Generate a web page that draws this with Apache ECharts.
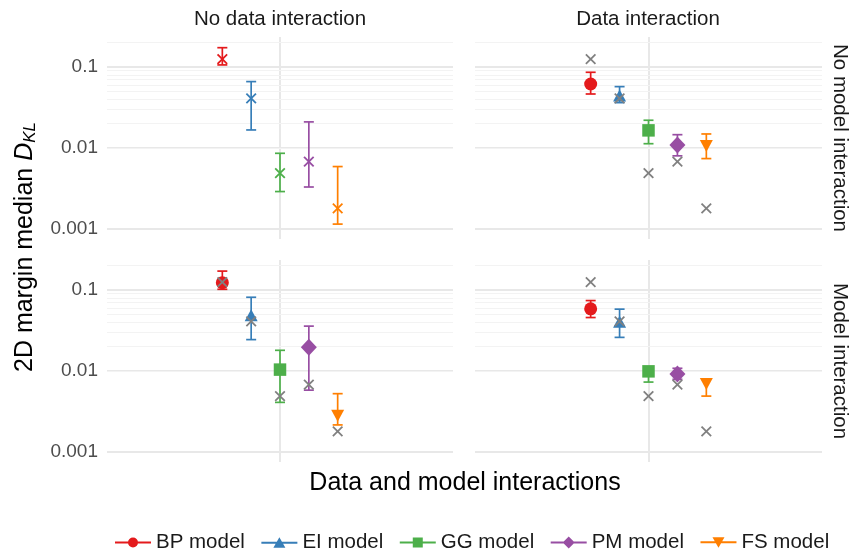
<!DOCTYPE html>
<html><head><meta charset="utf-8">
<script src="https://cdn.jsdelivr.net/npm/echarts@6/dist/echarts.min.js"></script>
<style>html,body{margin:0;padding:0;background:#fff}#c{width:852px;height:556px}</style>
</head><body><div id="c"></div>
<script>
const models = ['BP model','EI model','GG model','PM model','FS model'];
const colors = ['#E41A1C','#377EB8','#4DAF4A','#984EA3','#FF7F00'];
const colLabels = ['No data interaction','Data interaction'];
const rowLabels = ['No model interaction','Model interaction'];
const xTitle = 'Data and model interactions';
const yTitle = '2D margin median ';
const yTickLabels = ['0.001','0.01','0.1'];

// gray crosses: no-interaction reference values
const baseline = [0.125, 0.041, 0.0049, 0.0068, 0.0018];
// No data interaction / No model interaction
const p00Median = [0.125, 0.041, 0.0049, 0.0068, 0.0018];
const p00Low    = [0.106, 0.0167, 0.0029, 0.0033, 0.00115];
const p00High   = [0.173, 0.066, 0.0086, 0.021, 0.0059];
// Data interaction / No model interaction
const p01Median = [0.0616, 0.0443, 0.0165, 0.0109, 0.0106];
const p01Low    = [0.0464, 0.0363, 0.0113, 0.0080, 0.0074];
const p01High   = [0.086, 0.0572, 0.022, 0.0146, 0.0149];
// No data interaction / Model interaction
const p10Median = [0.123, 0.0487, 0.0104, 0.0196, 0.0028];
const p10Low    = [0.102, 0.0244, 0.0041, 0.0058, 0.00216];
const p10High   = [0.171, 0.0813, 0.018, 0.0358, 0.00525];
// Data interaction / Model interaction
const p11Median = [0.0585, 0.0405, 0.0099, 0.0092, 0.0069];
const p11Low    = [0.0457, 0.026, 0.0073, 0.0079, 0.0049];
const p11High   = [0.074, 0.058, 0.0112, 0.0108, 0.0079];

const panels = [
  {median: p00Median, low: p00Low, high: p00High, colored: true},
  {median: p01Median, low: p01Low, high: p01High},
  {median: p10Median, low: p10Low, high: p10High},
  {median: p11Median, low: p11Low, high: p11High}
];

const FONT = '"Liberation Sans", Arial, Helvetica, sans-serif';
const symbols = ['circle','triangle','rect','diamond','triangle'];
const rotates = [0,0,0,0,180];
const sizes = [13,[13,12],12.5,[16,17],[13,12]];
const lineBar = 'M0,5.1H36V6.9H0Z ';
const icons = [
  'path://' + lineBar + 'M13,6A5,5 0 1,1 23,6A5,5 0 1,1 13,6Z',
  'path://' + lineBar + 'M18,0.5L24,11H12Z',
  'path://' + lineBar + 'M13,1H23V11H13Z',
  'path://' + lineBar + 'M18,0L24,6L18,12L12,6Z',
  'path://' + lineBar + 'M12,1H24L18,11.5Z'
];

const yMin = 0.000753, yMax = 0.2344;
const minorVals = [];
for (let k = -4; k <= -1; k++) for (let m = 2; m <= 9; m++) {
  const v = m * Math.pow(10, k);
  if (v > yMin && v < yMax) minorVals.push(+v.toPrecision(3));
}

const gridPos = [
  {left:107, top:37, width:346, height:202},
  {left:475, top:37, width:347, height:202},
  {left:107, top:260, width:346, height:202},
  {left:475, top:260, width:347, height:202}
];

function errRender(params, api) {
  const x = api.value(0), lo = api.value(1), hi = api.value(2);
  const col = colors[api.value(3)];
  const a = api.coord([x, lo]), b = api.coord([x, hi]);
  const w = 5;
  const style = {stroke: col, lineWidth: 1.7, fill: null};
  return {type:'group', children:[
    {type:'line', shape:{x1:a[0], y1:a[1], x2:b[0], y2:b[1]}, style},
    {type:'line', shape:{x1:a[0]-w, y1:a[1], x2:a[0]+w, y2:a[1]}, style},
    {type:'line', shape:{x1:b[0]-w, y1:b[1], x2:b[0]+w, y2:b[1]}, style}
  ]};
}
function crossRender(params, api) {
  const c = api.coord([api.value(0), api.value(1)]);
  const ci = api.value(2);
  const col = ci < 0 ? '#808080' : colors[ci];
  const s = 4.8;
  const style = {stroke: col, lineWidth: 1.8, fill: null};
  return {type:'group', children:[
    {type:'line', shape:{x1:c[0]-s, y1:c[1]-s, x2:c[0]+s, y2:c[1]+s}, style},
    {type:'line', shape:{x1:c[0]-s, y1:c[1]+s, x2:c[0]+s, y2:c[1]-s}, style}
  ]};
}

const grid = gridPos.map(g => Object.assign({containLabel:false}, g));
const xAxis = gridPos.map((g, i) => ({
  type:'value', gridIndex:i, min:-6, max:6, interval:6,
  axisLine:{show:false}, axisTick:{show:false}, axisLabel:{show:false},
  splitLine:{show:true, showMinLine:false, showMaxLine:false, lineStyle:{color:'#e8e8e8', width:2}}
}));
const yAxis = gridPos.map((g, i) => ({
  type:'log', logBase:10, gridIndex:i, min:yMin, max:yMax,
  axisLine:{show:false}, axisTick:{show:false},
  axisLabel:{show: i % 2 === 0, showMinLabel:false, showMaxLabel:false, margin:9,
    fontSize:19, color:'#4d4d4d', fontFamily:FONT,
    formatter: v => { const s = +(+v).toPrecision(3); const idx = yTickLabels.indexOf(String(s)); return idx >= 0 ? yTickLabels[idx] : ''; }},
  splitLine:{show:true, showMinLine:false, showMaxLine:false, lineStyle:{color:'#e8e8e8', width:2}}
}));

const series = [];
panels.forEach((p, gi) => {
  series.push({
    type:'line', xAxisIndex:gi, yAxisIndex:gi, data:[], z:0, silent:true,
    markLine:{silent:true, z:0, zlevel:0, symbol:['none','none'], animation:false, label:{show:false},
      lineStyle:{type:'solid', color:'#f3f3f3', width:1},
      emphasis:{disabled:true},
      data: minorVals.map(v => ({yAxis:v}))}
  });
  series.push({
    type:'custom', xAxisIndex:gi, yAxisIndex:gi, z:2, silent:true,
    renderItem: errRender, encode:{x:0, y:[1,2]},
    data: models.map((m, i) => [i - 2, p.low[i], p.high[i], i])
  });
  if (!p.colored) {
    models.forEach((m, i) => {
      series.push({
        type:'scatter', name:m, xAxisIndex:gi, yAxisIndex:gi, z:3, silent:true,
        symbol: symbols[i], symbolRotate: rotates[i], symbolSize: sizes[i],
        itemStyle:{color: colors[i], opacity:1},
        data: [[i - 2, p.median[i]]]
      });
    });
  }
  series.push({
    type:'custom', xAxisIndex:gi, yAxisIndex:gi, z:4, silent:true,
    renderItem: crossRender, encode:{x:0, y:1},
    data: p.colored ? models.map((m, i) => [i - 2, p.median[i], i])
                    : models.map((m, i) => [i - 2, baseline[i], -1])
  });
});

const textEl = (txt, x, y, size, rot, color) => ({
  type:'text', x, y, rotation: rot, silent:true,
  style:{text: txt, x:0, y:0, align:'center', verticalAlign:'middle',
    font: size + 'px ' + FONT, fill: color}
});

const graphic = [
  textEl(colLabels[0], 280, 19, 20.5, 0, '#1a1a1a'),
  textEl(colLabels[1], 648, 19, 20.5, 0, '#1a1a1a'),
  textEl(rowLabels[0], 840, 138, 20.5, -Math.PI/2, '#1a1a1a'),
  textEl(rowLabels[1], 840, 361, 20.5, -Math.PI/2, '#1a1a1a'),
  textEl(xTitle, 465, 483, 25, 0, '#000'),
  {
    type:'text', x:25, y:247, rotation: Math.PI/2, silent:true,
    style:{
      text: '{n|' + yTitle + '}{d|D}{s|KL}', x:0, y:0, align:'center', verticalAlign:'middle',
      fill:'#000',
      rich:{
        n:{fontSize:25, fontFamily:FONT, fill:'#000'},
        d:{fontSize:25, fontFamily:FONT, fontStyle:'italic', fill:'#000'},
        s:{fontSize:17, fontFamily:FONT, fontStyle:'italic', fill:'#000', padding:[10,0,0,0]}
      }
    }
  }
];

const chart = echarts.init(document.getElementById('c'), null, {renderer:'canvas'});
chart.setOption({
  animation:false,
  backgroundColor:'#fff',
  grid, xAxis, yAxis, series, graphic,
  legend:{
    left:115, top:532, padding:0, itemGap:16.5, itemWidth:36, itemHeight:12,
    selectedMode:false,
    textStyle:{fontSize:20.5, color:'#1a1a1a', fontFamily:FONT},
    data: models.map((m, i) => ({name:m, icon:icons[i]}))
  }
});
</script></body></html>
